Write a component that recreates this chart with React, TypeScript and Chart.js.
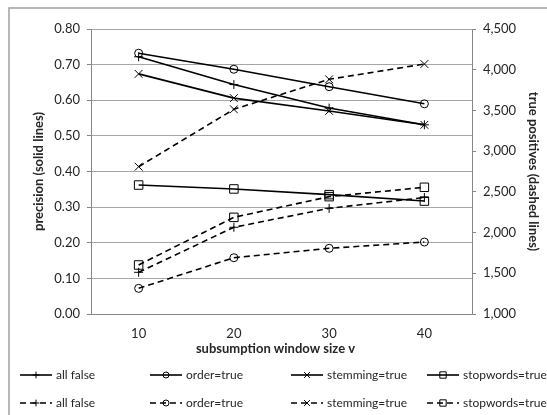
import React, { useEffect, useRef } from 'react';
import { Chart, registerables } from 'chart.js';

Chart.register(...registerables);

const categories = ['10', '20', '30', '40'];
const seriesNames = ['all false', 'order=true', 'stemming=true', 'stopwords=true'];

const precisionAllFalse = [0.722, 0.644, 0.578, 0.531];
const precisionOrder = [0.732, 0.687, 0.638, 0.59];
const precisionStemming = [0.674, 0.606, 0.57, 0.531];
const precisionStopwords = [0.362, 0.351, 0.335, 0.317];

const tpAllFalse = [1512, 2065, 2298, 2430];
const tpOrder = [1315, 1691, 1807, 1884];
const tpStemming = [2809, 3514, 3882, 4070];
const tpStopwords = [1602, 2187, 2441, 2556];

const xTitle = 'subsumption window size v';
const yTitle = 'precision (solid lines)';
const y1Title = 'true positives (dashed lines)';

const FONT = 'Lato';
const TEXT = '#262626';
const GRID = '#a6a6a6';
const AXIS = '#868686';

const markerStyles = ['cross', 'circle', 'crossRot', 'rect'];
const markerRadii = [4.5, 4, 5.5, 6];

function drawMarker(ctx: CanvasRenderingContext2D, style: string, x: number, y: number, r: number) {
  ctx.beginPath();
  if (style === 'cross') {
    ctx.moveTo(x - r, y); ctx.lineTo(x + r, y);
    ctx.moveTo(x, y - r); ctx.lineTo(x, y + r);
  } else if (style === 'crossRot') {
    const d = r * Math.SQRT1_2;
    ctx.moveTo(x - d, y - d); ctx.lineTo(x + d, y + d);
    ctx.moveTo(x - d, y + d); ctx.lineTo(x + d, y - d);
  } else if (style === 'circle') {
    ctx.arc(x, y, r, 0, Math.PI * 2);
  } else {
    const s = r * Math.SQRT1_2;
    ctx.rect(x - s, y - s, 2 * s, 2 * s);
  }
  ctx.stroke();
}

const framePlugin = {
  id: 'frame',
  beforeDraw(chart: any) {
    const ctx = chart.ctx as CanvasRenderingContext2D;
    ctx.save();
    ctx.fillStyle = '#ffffff';
    ctx.fillRect(0, 0, chart.width, chart.height);
    ctx.strokeStyle = '#a0a0a0';
    ctx.lineWidth = 1.5;
    ctx.strokeRect(9, 8, chart.width + 20, chart.height + 20);
    ctx.restore();
  },
};

const titlesPlugin = {
  id: 'axisTitles',
  afterDraw(chart: any) {
    const ctx = chart.ctx as CanvasRenderingContext2D;
    const area = chart.chartArea;
    ctx.save();
    ctx.setTransform(1, 0, 0, 1, 0, 0);
    ctx.font = `bold 13px ${FONT}`;
    ctx.fillStyle = TEXT;
    ctx.textAlign = 'center';
    ctx.textBaseline = 'middle';
    ctx.fillText(xTitle, (area.left + area.right) / 2 - 6, area.bottom + 35);
    ctx.translate(area.left - 52, (area.top + area.bottom) / 2);
    ctx.rotate(-Math.PI / 2);
    ctx.fillText(yTitle, 0, 0);
    ctx.restore();
  },
};

const legendPlugin = {
  id: 'customLegend',
  afterDraw(chart: any) {
    const ctx = chart.ctx as CanvasRenderingContext2D;
    const cols = [20, 150, 291, 427];
    const rows = [375, 403];
    ctx.save();
    ctx.font = `12px ${FONT}`;
    ctx.textBaseline = 'middle';
    ctx.fillStyle = TEXT;
    rows.forEach((ry, ri) => {
      seriesNames.forEach((name, ci) => {
        const x0 = cols[ci];
        const len = 32;
        ctx.strokeStyle = '#000';
        ctx.lineWidth = 1.6;
        ctx.setLineDash(ri === 1 ? [6, 4] : []);
        ctx.beginPath();
        ctx.moveTo(x0, ry);
        ctx.lineTo(x0 + len, ry);
        ctx.stroke();
        ctx.setLineDash([]);
        ctx.lineWidth = 1;
        drawMarker(ctx, markerStyles[ci], x0 + len / 2, ry, markerRadii[ci] * 0.75);
        ctx.fillText(name, x0 + len + 4, ry);
      });
    });
    ctx.restore();
  },
};

function makeDataset(label: string, data: number[], idx: number, dashed: boolean) {
  return {
    label,
    data,
    yAxisID: dashed ? 'y1' : 'y',
    borderColor: '#000',
    borderWidth: 1.6,
    borderDash: dashed ? [6, 4] : [],
    pointStyle: markerStyles[idx],
    pointRadius: markerRadii[idx],
    pointBorderColor: '#000',
    pointBackgroundColor: 'rgba(0,0,0,0)',
    pointBorderWidth: 1,
    fill: false,
    tension: 0,
  };
}

export default function App() {
  const ref = useRef<HTMLCanvasElement | null>(null);
  useEffect(() => {
    document.body.style.margin = '0';
    if (!ref.current) return;
    const chart = new Chart(ref.current, {
      type: 'line',
      data: {
        labels: categories,
        datasets: [
          makeDataset('all false', precisionAllFalse, 0, false),
          makeDataset('order=true', precisionOrder, 1, false),
          makeDataset('stemming=true', precisionStemming, 2, false),
          makeDataset('stopwords=true', precisionStopwords, 3, false),
          makeDataset('all false (tp)', tpAllFalse, 0, true),
          makeDataset('order=true (tp)', tpOrder, 1, true),
          makeDataset('stemming=true (tp)', tpStemming, 2, true),
          makeDataset('stopwords=true (tp)', tpStopwords, 3, true),
        ],
      },
      options: {
        animation: false,
        responsive: false,
        devicePixelRatio: 1,
        layout: { padding: { top: 29, bottom: 58, left: 0, right: 0 } },
        plugins: {
          legend: { display: false },
          tooltip: { enabled: false },
        },
        scales: {
          x: {
            type: 'category',
            offset: true,
            grid: { display: false, drawTicks: false, tickLength: 0 },
            border: { display: true, color: AXIS, width: 1 },
            ticks: { color: TEXT, font: { family: FONT, size: 13 }, padding: 12 },
            afterFit(scale: any) { scale.height = 43; },
          },
          y: {
            position: 'left',
            min: 0,
            max: 0.8,
            ticks: {
              stepSize: 0.1,
              color: TEXT,
              font: { family: FONT, size: 13 },
              padding: 7,
              callback: (v: any) => Number(v).toFixed(2),
            },
            grid: { color: GRID, lineWidth: 1, drawTicks: true, tickLength: 4, tickColor: AXIS },
            border: { display: true, color: AXIS, width: 1 },
            afterFit(scale: any) { scale.width = 91; },
          },
          y1: {
            position: 'right',
            min: 1000,
            max: 4500,
            ticks: {
              stepSize: 500,
              color: TEXT,
              font: { family: FONT, size: 13 },
              padding: 7,
              callback: (v: any) => Number(v).toLocaleString('en-US'),
            },
            grid: { drawOnChartArea: false, drawTicks: true, tickLength: 4, color: AXIS },
            border: { display: true, color: AXIS, width: 1 },
            title: {
              display: true,
              text: y1Title,
              color: TEXT,
              font: { family: FONT, size: 13, weight: 'bold' },
              padding: 6,
            },
            afterFit(scale: any) { scale.width = 75; },
          },
        },
      } as any,
      plugins: [framePlugin, titlesPlugin, legendPlugin],
    });
    return () => chart.destroy();
  }, []);
  return (
    <div style={{ width: 547, height: 415 }}>
      <canvas ref={ref} width={547} height={415} style={{ display: 'block', width: 547, height: 415 }} />
    </div>
  );
}
